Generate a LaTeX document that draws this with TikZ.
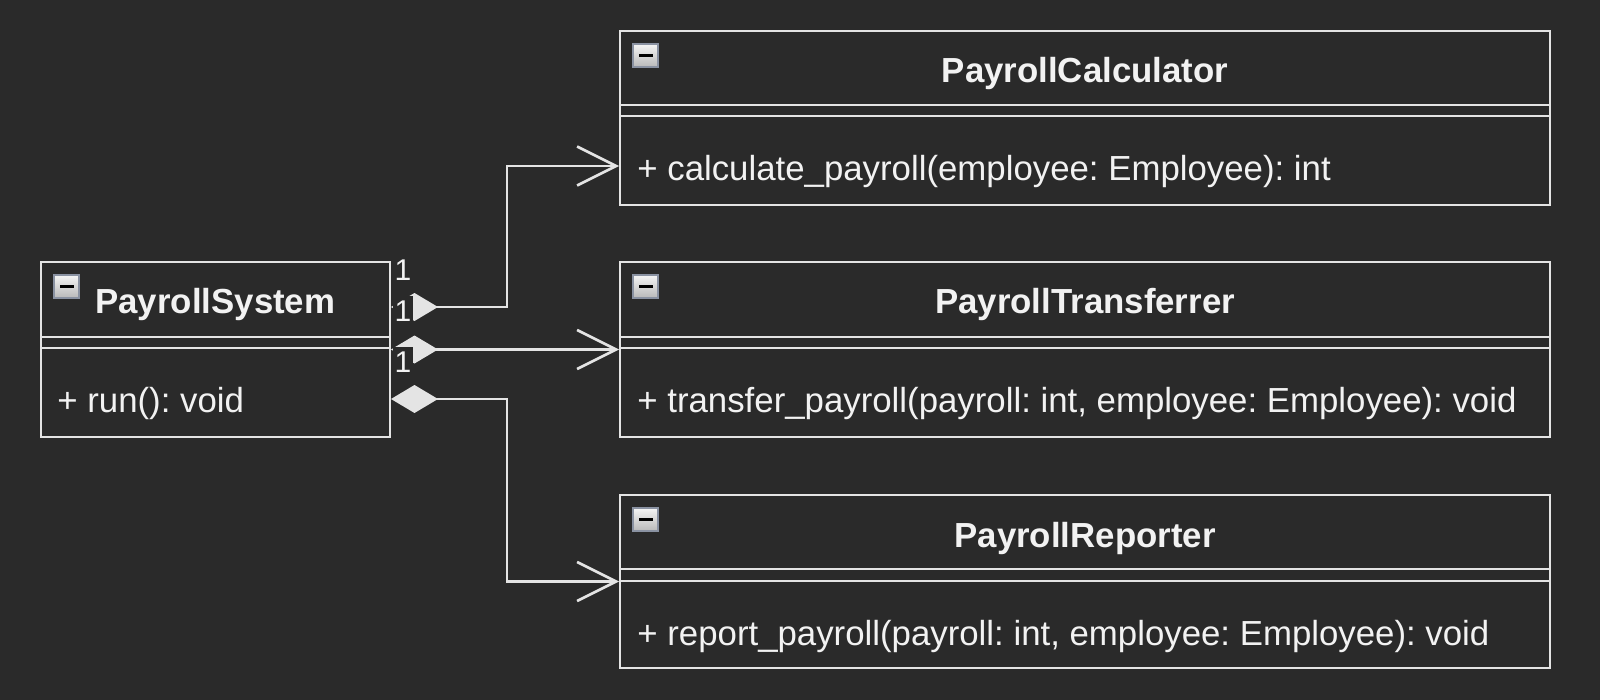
\documentclass[tikz,border=0pt]{standalone}
\usepackage{fontspec}
\setmainfont{Liberation Sans}
\usetikzlibrary{arrows.meta}
\frenchspacing
\definecolor{bgdark}{RGB}{42,42,42}
\definecolor{linegray}{RGB}{228,228,228}
\definecolor{iconrim}{RGB}{138,146,162}
\begin{document}
\begin{tikzpicture}[x=0.5pt,y=-0.5pt,
    classbox/.style={draw=linegray, line width=1pt, fill=bgdark, inner sep=0pt},
    classline/.style={draw=linegray, line width=1pt},
    title/.style={text=white!95!black, font=\fontsize{17.4}{20}\selectfont\bfseries, inner sep=0pt},
    member/.style={text=white!95!black, font=\fontsize{17.4}{20}\selectfont, inner sep=0pt, anchor=base west},
    mult/.style={text=white!95!black, font=\fontsize{15}{18}\selectfont, fill=bgdark, inner xsep=1pt, inner ysep=0pt, minimum height=15pt},
    compose/.style={draw=linegray, line width=1.3pt, {Diamond[length=23.5pt,width=14pt]}-{Straight Barb[length=19.5pt,width=19.5pt]}},
    icon/.style={draw=iconrim, line width=1pt, top color=white!92!gray, bottom color=gray!55, minimum width=12.5pt, minimum height=11.5pt, inner sep=0pt}]
    % Background
    \fill[bgdark] (0,0) rectangle (1600,700);

    % Class boxes
    \node[classbox, minimum width=174.5pt, minimum height=87.5pt] (sys) at (215.5,349.5) {};
    \node[classbox, minimum width=465pt, minimum height=87pt] (calc) at (1085,118) {};
    \node[classbox, minimum width=465pt, minimum height=87.5pt] (trans) at (1085,349.5) {};
    \node[classbox, minimum width=465pt, minimum height=86.5pt] (rep) at (1085,581.5) {};

    % Compartment lines
    \foreach \b/\ya/\yb in {sys/-38pt/-43.5pt, calc/-37.5pt/-43pt, trans/-38pt/-43.5pt, rep/-37.5pt/-43.5pt}{
        \draw[classline] ([yshift=\ya]\b.north west) -- ([yshift=\ya]\b.north east);
        \draw[classline] ([yshift=\yb]\b.north west) -- ([yshift=\yb]\b.north east);
    }

    % Collapse icons
    \foreach \b in {sys, calc, trans, rep}{
        \node[icon, anchor=north west] (\b icon) at ([xshift=6.5pt,yshift=-6.5pt]\b.north west) {};
        \draw[black, line width=1.6pt] ([xshift=3.5pt]\b icon.west) -- ([xshift=-3pt]\b icon.east);
    }

    % Titles
    \node[title, anchor=base west] (systitle) at (95,314) {PayrollSystem};
    \node[title, anchor=base] (calctitle) at (1085,83) {PayrollCalculator};
    \node[title, anchor=base] (transtitle) at (1085,314) {PayrollTransferrer};
    \node[title, anchor=base] (reptitle) at (1085,547) {PayrollReporter};

    % Methods
    \node[member] (sysrun) at (57,412) {+ run(): void};
    \node[member] (calcmeth) at (637,181) {+ calculate\_payroll(employee: Employee): int};
    \node[member] (transmeth) at (637,412) {+ transfer\_payroll(payroll: int, employee: Employee): void};
    \node[member] (repmeth) at (637,645) {+ report\_payroll(payroll: int, employee: Employee): void};

    % Compositions
    \draw[compose] ([yshift=21.25pt]sys.east) -- ++(116,0) |- ([yshift=-24pt]calc.west);
    \draw[compose] (sys.east) -- (trans.west);
    \draw[compose] ([yshift=-24.75pt]sys.east) -- ++(116,0) |- (rep.west);

    % Multiplicities
    \node[mult] (m1) at (403,270) {1};
    \node[mult] (m2) at (403,311) {1};
    \node[mult] (m3) at (403,362) {1};
\end{tikzpicture}
\end{document}
